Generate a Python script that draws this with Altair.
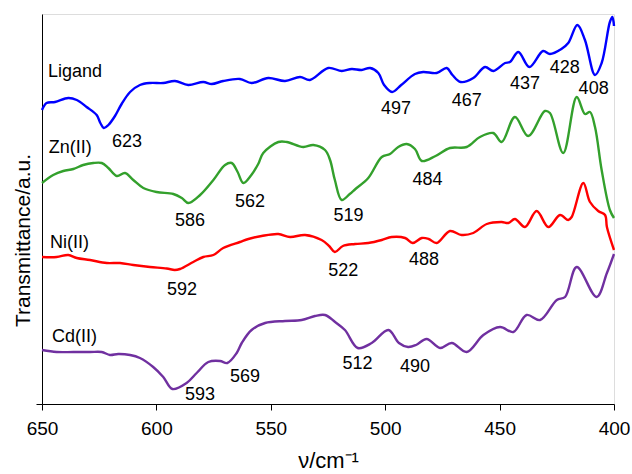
import altair as alt
import pandas as pd

# Wavenumbers (cm^-1) and transmittance (arbitrary units, offset per trace)
ligand_wn = [650, 648, 644.3, 638.5, 634.8, 630.5, 626.1, 624.5, 623, 621, 618.1, 615.2, 611.5,
             607.2, 602.8, 597, 591.9, 586.1, 579.5, 575.8, 570.8, 563.5, 558.4, 551.1, 543.8,
             537.2, 532.9, 524.9, 519, 514.6, 510.3, 506.6, 503, 500.5, 497, 493, 487, 483.4,
             477.5, 473.1, 470.6, 467, 461.5, 456.4, 452.7, 447.6, 445.5, 441.8, 437, 431, 428,
             423, 420, 416, 412.7, 408.3, 405.4, 401.8, 400.7, 400]
ligand_t = [294, 301, 302, 306, 304, 297, 289, 281, 276, 279, 288, 300, 312,
            319, 321, 321, 323, 319, 322, 320, 323, 325, 321, 326, 323,
            327, 324, 336, 333, 335, 334, 336, 331, 319, 312, 319, 330, 332,
            331, 336, 329, 322, 326, 337, 333, 341, 342, 352, 337, 353, 350,
            355, 361, 379, 364, 329, 341, 382, 387, 378]

zn_wn = [650, 645.1, 640.7, 636.3, 632, 627.6, 623.9, 621, 617.3, 613.7, 610.1, 605.7, 599.9,
         592.6, 588.9, 586, 580.9, 575.1, 570, 567.1, 564.5, 562, 558.5, 555.5, 553.3, 546.7,
         543, 535.8, 531.4, 526.3, 524.1, 522, 519, 515.5, 513, 507.4, 501.5, 497.9, 494.3,
         490.6, 487, 484, 478, 471.7, 464.4, 458.6, 452.8, 449.1, 443.3, 437.5, 430.2, 428,
         422.2, 416.3, 412.7, 410.5, 408.3, 405.4, 401.8, 400]
zn_t = [221, 229, 233, 235, 239, 241, 241, 236, 228, 231, 224, 216, 212,
        210, 206, 201, 209, 224, 239, 241, 232, 221, 229, 240, 251, 262,
        262, 257, 259, 254, 244, 224, 204, 210, 215, 226, 247, 250, 257,
        260, 255, 243, 248, 256, 257, 267, 271, 262, 287, 268, 293, 291,
        251, 307, 290, 292, 277, 234, 194, 186]

ni_wn = [650, 643.6, 638.5, 634.8, 629, 621.7, 615.9, 610.1, 602.8, 595.5, 592, 589.7, 583.9,
         579.5, 575.1, 570.8, 563.5, 559.8, 554, 546.7, 541.6, 535, 527.8, 524.5, 522,
         518.5, 513.2, 507.4, 501.5, 497.2, 491.3, 488, 484, 481, 477.5, 471.7, 466.6,
         461.5, 455.6, 449.1, 446.2, 443.3, 438.9, 433.8, 428.7, 423.6, 420, 418.5, 413.4,
         410.5, 406.9, 403.9, 403.1, 400]
ni_t = [147, 147, 149, 146, 144, 141, 141, 139, 137, 135.5, 134, 135, 142,
        147, 149, 156, 162, 165, 168, 170, 167, 169, 164, 158, 152,
        158, 160, 161, 164, 167, 166, 161, 166, 165, 161, 173, 169,
        171, 180, 182, 181, 185, 177, 193, 177, 189, 184, 187, 221,
        202, 193, 189, 177, 154]

cd_wn = [650, 643.6, 636.3, 629, 623.9, 620.3, 616.7, 611.5, 607.2, 601.4, 597, 593, 586.8,
         582.4, 577.3, 572.2, 569, 564.9, 562.7, 558.4, 552.5, 543.8, 536.5, 530.7, 526.3,
         521.9, 517.6, 512, 505.9, 498.6, 494, 490, 486.5, 481.9, 476, 470.9, 464.4, 457.1,
         449.8, 444, 438.2, 432.3, 425, 421.4, 416.3, 407.6, 403.1, 400]
cd_t = [54, 52, 52, 52, 52, 49, 50, 49, 46, 37, 27, 15, 21,
        31, 42, 43, 41, 51, 61, 74, 81, 83, 84, 88, 89,
        82, 74, 56, 61, 74, 61, 57, 59, 65, 56, 61, 52, 69,
        77, 72, 89, 84, 104, 107, 137, 107, 131, 150]

series_names = ["Ligand", "Zn(II)", "Ni(II)", "Cd(II)"]
series_colors = ["#0000ff", "#33a02c", "#ff0000", "#7030a0"]

# Trace names placed at the left of each spectrum
name_wn = [647.4, 647, 646.5, 645.6]
name_t = [332, 256, 161, 67.5]

# Band positions written next to the spectra
band_text = ["623", "497", "467", "437", "428", "408",
             "586", "562", "519", "484",
             "592", "522", "488",
             "593", "569", "512", "490"]
band_wn = [612.8, 495.3, 464.4, 438.9, 421.5, 408.9,
           585.3, 559.1, 516, 481.5,
           588.8, 518.3, 483,
           580.9, 561.3, 512.1, 487]
band_t = [262, 295, 303, 320, 336.5, 315,
          183, 202, 188, 224,
          114, 133, 144,
          9, 27.5, 40, 37]

frames = []
for name, wn, t in [("Ligand", ligand_wn, ligand_t), ("Zn(II)", zn_wn, zn_t),
                    ("Ni(II)", ni_wn, ni_t), ("Cd(II)", cd_wn, cd_t)]:
    frames.append(pd.DataFrame({"wn": wn, "t": t, "series": name}))
spectra = pd.concat(frames, ignore_index=True)

names = pd.DataFrame({"label": series_names, "wn": name_wn, "t": name_t})
bands = pd.DataFrame({"label": band_text, "wn": band_wn, "t": band_t})

FONT = "Liberation Sans"

x_scale = alt.Scale(domain=[400, 650], reverse=True, nice=False, zero=False)
y_scale = alt.Scale(domain=[0, 390], nice=False, zero=False)

lines = alt.Chart(spectra).mark_line(strokeWidth=2.4, interpolate="catmull-rom").encode(
    x=alt.X("wn:Q", scale=x_scale,
            axis=alt.Axis(title="ν/cm⁻¹", values=[650, 600, 550, 500, 450, 400],
                          labelFontSize=19, titleFontSize=22, titleFontWeight="normal",
                          tickSize=6, labelPadding=9, titlePadding=12, grid=False,
                          domainColor="black", tickColor="black", labelColor="black",
                          titleColor="black", labelFont=FONT, titleFont=FONT,
                          labelFlush=False)),
    y=alt.Y("t:Q", scale=y_scale,
            axis=alt.Axis(title="Transmittance/a.u.", values=[0], labels=False,
                          tickSize=6, titleFontSize=21, titleFontWeight="normal",
                          titlePadding=2, grid=False, domainColor="black",
                          tickColor="black", titleColor="black", titleFont=FONT,
                          titleY=226)),
    color=alt.Color("series:N", scale=alt.Scale(domain=series_names, range=series_colors),
                    legend=None),
    detail="series:N",
)

name_text = alt.Chart(names).mark_text(
    align="left", baseline="middle", fontSize=18, font=FONT, color="black"
).encode(x=alt.X("wn:Q", scale=x_scale), y=alt.Y("t:Q", scale=y_scale), text="label:N")

band_labels = alt.Chart(bands).mark_text(
    align="center", baseline="middle", fontSize=18, font=FONT, color="black"
).encode(x=alt.X("wn:Q", scale=x_scale), y=alt.Y("t:Q", scale=y_scale), text="label:N")

chart = alt.layer(lines, name_text, band_labels).properties(
    width=572, height=390,
    autosize=alt.AutoSizeParams(type="none"),
    padding={"left": 42, "top": 14, "right": 18, "bottom": 70},
).configure_view(stroke="#555555", strokeWidth=1.2).configure(background="white")

chart.save("out.html", embed_options={"renderer": "svg", "actions": False})
